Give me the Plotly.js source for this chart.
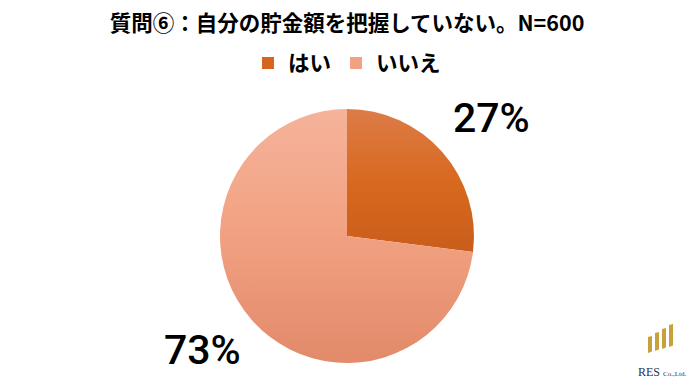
<!DOCTYPE html>
<html>
<head>
<meta charset="utf-8">
<script src="https://cdn.plot.ly/plotly-3.0.1.min.js"></script>
<style>html,body{margin:0;padding:0;background:#fff;}#chart{width:694px;height:390px;}</style>
</head>
<body>
<div id="chart"></div>
<script>
var categories = ['はい', 'いいえ'];
var values = [27, 73];
var colors = ['#D5661F', '#F0A283'];
var titleText = '質問⑥：自分の貯金額を把握していない。N=600';

var gradients = [
  [['0%', '#DC7C48'], ['50%', '#D8691F'], ['100%', '#C95D1B']],
  [['0%', '#F5B39B'], ['45%', '#F2A383'], ['100%', '#E28A6A']]
];

var W = 694, H = 390;
var cx = 347, cy = 236, R = 127;
var labelRX = 193, labelRY = 176;

var total = values.reduce(function (a, b) { return a + b; }, 0);

var trace = {
  type: 'pie',
  labels: categories,
  values: values,
  sort: false,
  direction: 'clockwise',
  rotation: 0,
  marker: { colors: colors, line: { width: 0 } },
  textinfo: 'none',
  domain: { x: [(cx - R) / W, (cx + R) / W], y: [1 - (cy + R) / H, 1 - (cy - R) / H] },
  hoverinfo: 'label+percent'
};

var annotations = [];
var cum = 0;
values.forEach(function (v) {
  var mid = (cum + v / 2) / total * 2 * Math.PI;
  cum += v;
  var px = cx + labelRX * Math.sin(mid);
  var py = cy - labelRY * Math.cos(mid);
  annotations.push({ xref: 'paper', yref: 'paper', x: px / W, y: 1 - py / H,
    xanchor: 'center', yanchor: 'middle', showarrow: false, yshift: 2,
    text: Math.round(v / total * 100) + '%',
    font: { family: 'Roboto, Liberation Sans, sans-serif', size: 41, color: '#000000', weight: 500 } });
});

annotations.push({ xref: 'paper', yref: 'paper', x: 662 / W, y: 1 - 372 / H, xanchor: 'center', yanchor: 'middle',
  text: 'RES <span style="font-size:7px">Co.,Ltd.</span>', showarrow: false,
  font: { family: 'Liberation Serif, serif', size: 12, color: '#2B3550' } });

var shapes = [];
var bars = [[648, 336, 353], [655, 332, 351], [662, 328, 349], [669, 324, 347]];
bars.forEach(function (b) {
  var x0 = b[0] / W, x1 = (b[0] + 4) / W;
  shapes.push({ type: 'path', xref: 'paper', yref: 'paper',
    path: 'M ' + x0 + ' ' + (1 - b[2] / H) + ' L ' + x1 + ' ' + (1 - (b[2] - 1.5) / H) +
          ' L ' + x1 + ' ' + (1 - b[1] / H) + ' L ' + x0 + ' ' + (1 - (b[1] + 1) / H) + ' Z',
    fillcolor: '#C9A13B', line: { width: 0 } });
});

var layout = {
  width: W, height: H,
  margin: { l: 0, r: 0, t: 0, b: 0 },
  paper_bgcolor: '#ffffff',
  title: { text: titleText, x: 0.5, xanchor: 'center', y: 1 - 23 / H, yanchor: 'middle',
           font: { family: 'Noto Sans CJK JP, sans-serif', size: 21.5, color: '#000000', weight: 'bold' } },
  showlegend: true,
  legend: { orientation: 'h', x: 0.5, xanchor: 'center', y: 1 - 63 / H, yanchor: 'middle',
            font: { family: 'Noto Sans CJK JP, sans-serif', size: 21.5, color: '#000000', weight: 'bold' },
            traceorder: 'normal' },
  shapes: shapes,
  annotations: annotations
};

Plotly.newPlot('chart', [trace], layout, { displayModeBar: false, staticPlot: true }).then(function (gd) {
  var svg = gd.querySelector('svg.main-svg');
  var defs = svg.querySelector('defs');
  var ns = 'http://www.w3.org/2000/svg';
  gradients.forEach(function (stops, i) {
    var lg = document.createElementNS(ns, 'linearGradient');
    lg.setAttribute('id', 'sliceGrad' + i);
    lg.setAttribute('x1', '0'); lg.setAttribute('y1', '0');
    lg.setAttribute('x2', '0'); lg.setAttribute('y2', '1');
    stops.forEach(function (s) {
      var st = document.createElementNS(ns, 'stop');
      st.setAttribute('offset', s[0]);
      st.setAttribute('stop-color', s[1]);
      lg.appendChild(st);
    });
    defs.appendChild(lg);
  });
  var paths = gd.querySelectorAll('g.slice path.surface');
  paths.forEach(function (p, i) {
    p.style.fill = 'url(#sliceGrad' + i + ')';
  });
});
</script>
</body>
</html>
